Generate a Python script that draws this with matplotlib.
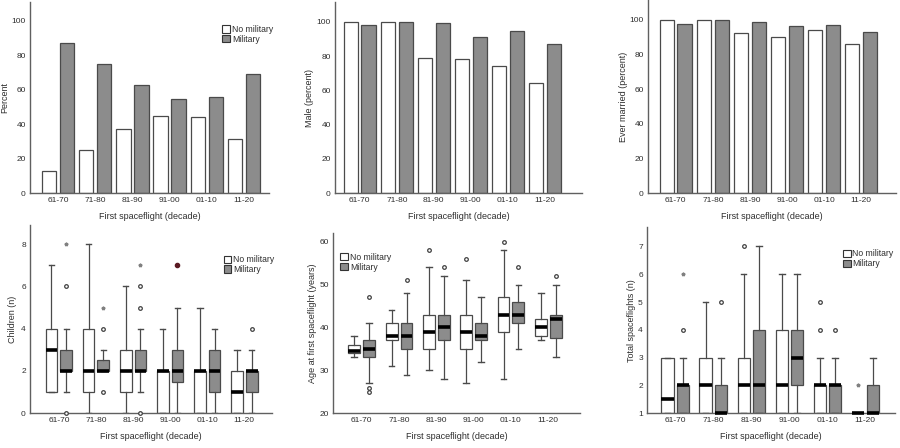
import numpy as np
import matplotlib
matplotlib.use('Agg')
import matplotlib.pyplot as plt
from matplotlib.patches import Patch

plt.rcParams['font.family'] = ['Liberation Sans', 'DejaVu Sans']

decades = ['61-70', '71-80', '81-90', '91-00', '01-10', '11-20']

# top row: percentages
pct_nomil = [13, 25, 37.5, 45, 44.5, 31.5]
pct_mil = [87.5, 75, 63, 55, 56, 69]
male_nomil = [100, 100, 79, 78, 74, 64.5]
male_mil = [98, 100, 99, 91, 94.5, 87]
married_nomil = [100, 100, 92.5, 90, 94, 86]
married_mil = [97.5, 100, 99, 96.5, 97, 93]

# bottom row: box stats (whisker low, q1, median, q3, whisker high)
children_nomil = [(1, 1, 3, 4, 7), (0, 1, 2, 4, 8), (0, 1, 2, 3, 6),
                  (0, 0, 2, 2, 4), (0, 0, 2, 2, 5), (0, 0, 1, 2, 3)]
children_mil = [(1, 2, 2, 3, 4), (2, 2, 2, 2.5, 3), (1, 2, 2, 3, 4),
                (0, 1.5, 2, 3, 5), (0, 1, 2, 3, 4), (0, 1, 2, 2, 3)]
children_nomil_out = [[], [], [], [], [], []]
children_mil_out = [[6, 0], [4, 1], [5, 6, 0], [], [], [4]]
children_mil_ext = [[8], [5], [7], [], [], []]
children_mil_red = [[], [], [], [7], [], []]

age_nomil = [(33, 34, 34.5, 36, 38), (31, 37, 38, 41, 44), (30, 35, 39, 43, 54),
             (27, 35, 39, 43, 51), (28, 39, 43, 47, 58), (37, 38, 40, 42, 48)]
age_mil = [(27, 33, 35, 37, 41), (29, 35, 38, 41, 48), (28, 37, 40, 43, 52),
           (32, 37, 38, 41, 47), (35, 41, 43, 46, 50), (33, 37.5, 42, 43, 50)]
age_nomil_out = [[], [], [58], [56], [60], []]
age_mil_out = [[47, 26, 25], [51], [54], [], [54], [52]]

flights_nomil = [(1, 1, 1.5, 3, 3), (1, 1, 2, 3, 5), (1, 1, 2, 3, 6),
                 (1, 1, 2, 4, 6), (1, 1, 2, 2, 3), (1, 1, 1, 1, 1)]
flights_mil = [(1, 1, 2, 2, 3), (1, 1, 1, 2, 3), (1, 1, 2, 4, 7),
               (1, 2, 3, 4, 6), (1, 1, 2, 2, 3), (1, 1, 1, 2, 3)]
flights_nomil_out = [[], [], [7], [], [4, 5], []]
flights_nomil_ext = [[], [], [], [], [], [2]]
flights_mil_out = [[4], [5], [], [], [4], []]
flights_mil_ext = [[6], [], [], [], [], []]

W, H = 900, 448
GRAY = '#8c8c8c'
EDGE = '#4a4a4a'
SPINE = '#606060'
TXT = '#2e2e2e'

fig = plt.figure(figsize=(9, 4.48), dpi=100)


def px_axes(l, r, top, bottom):
    return fig.add_axes([l / W, 1 - bottom / H, (r - l) / W, (bottom - top) / H])


def style(ax, ylabel, xlim, ylim, yticks, lab_x, lab_y):
    for s in ['top', 'right']:
        ax.spines[s].set_visible(False)
    for s in ['left', 'bottom']:
        ax.spines[s].set_color(SPINE)
        ax.spines[s].set_linewidth(1.0)
    ax.set_xlim(*xlim)
    ax.set_ylim(*ylim)
    ax.set_yticks(yticks)
    ax.set_xticks(range(len(decades)))
    ax.set_xticklabels(decades)
    ax.tick_params(length=0, labelsize=6, colors=TXT, pad=3)
    ax.set_xlabel('First spaceflight (decade)', fontsize=6.5, color=TXT)
    ax.set_ylabel(ylabel, fontsize=6.5, color=TXT)
    ax.xaxis.set_label_coords(0.5, lab_y)
    ax.yaxis.set_label_coords(lab_x, 0.5)


def add_legend(ax, x, y):
    handles = [Patch(facecolor='white', edgecolor='#333333', linewidth=0.8),
               Patch(facecolor=GRAY, edgecolor='#333333', linewidth=0.8)]
    ax.legend(handles, ['No military', 'Military'], loc='upper left',
              bbox_to_anchor=(x, y), frameon=False, fontsize=6.2,
              handlelength=0.9, handleheight=0.9, handletextpad=0.2,
              labelspacing=0.1, borderpad=0, borderaxespad=0,
              labelcolor=TXT)


def bar_panel(ax, nomil, mil):
    x = np.arange(len(decades))
    ax.bar(x - 0.24, nomil, width=0.39, color='white', edgecolor=EDGE, linewidth=0.9)
    ax.bar(x + 0.24, mil, width=0.39, color=GRAY, edgecolor=EDGE, linewidth=0.9)


def box_panel(ax, stats, pos, fill, out, ext=None, red=None):
    bstats = []
    for s in stats:
        bstats.append({'whislo': s[0], 'q1': s[1], 'med': s[2], 'q3': s[3],
                       'whishi': s[4], 'fliers': []})
    ax.bxp(bstats, positions=pos, widths=0.32, capwidths=0.15, patch_artist=True,
           showfliers=False, manage_ticks=False,
           boxprops=dict(facecolor=fill, edgecolor=EDGE, linewidth=0.9),
           whiskerprops=dict(color=EDGE, linewidth=0.9),
           capprops=dict(color=EDGE, linewidth=1.0),
           medianprops=dict(color='black', linewidth=2.6, solid_capstyle='butt',
                            clip_on=False, zorder=5))
    for p, vals in zip(pos, out):
        if vals:
            ax.plot([p] * len(vals), vals, 'o', ms=2.6, mfc='white', mec='#404040',
                    mew=0.9, clip_on=False, zorder=4)
    if ext:
        for p, vals in zip(pos, ext):
            if vals:
                ax.plot([p] * len(vals), vals, '*', ms=2.6, color='#808080',
                        mec='#808080', clip_on=False, zorder=4)
    if red:
        for p, vals in zip(pos, red):
            if vals:
                ax.plot([p] * len(vals), vals, 'o', ms=3, color='#5a1a22',
                        clip_on=False, zorder=4)


x = np.arange(len(decades))

# top left
ax1 = px_axes(30, 269, 2, 193.3)
bar_panel(ax1, pct_nomil, pct_mil)
style(ax1, 'Percent', (-0.75, 5.67), (0, 111), range(0, 101, 20), -0.088, -0.098)
add_legend(ax1, 0.805, 0.88)

# top middle
ax2 = px_axes(335, 582, 2, 193.3)
bar_panel(ax2, male_nomil, male_mil)
style(ax2, 'Male (percent)', (-0.67, 6.0), (0, 111.5), range(0, 101, 20), -0.085, -0.098)

# top right
ax3 = px_axes(648, 896, 0, 193.3)
bar_panel(ax3, married_nomil, married_mil)
style(ax3, 'Ever married (percent)', (-0.75, 5.94), (0, 111.5), range(0, 101, 20), -0.08, -0.098)

# bottom left
ax4 = px_axes(30, 272, 225, 413.3)
box_panel(ax4, children_nomil, x - 0.2, 'white', children_nomil_out)
box_panel(ax4, children_mil, x + 0.2, GRAY, children_mil_out, children_mil_ext, children_mil_red)
style(ax4, 'Children (n)', (-0.78, 5.75), (0, 8.9), range(0, 9, 2), -0.054, -0.1)
add_legend(ax4, 0.8, 0.84)

# bottom middle
ax5 = px_axes(333, 580, 233, 413.3)
box_panel(ax5, age_nomil, x - 0.2, 'white', age_nomil_out)
box_panel(ax5, age_mil, x + 0.2, GRAY, age_mil_out)
style(ax5, 'Age at first spaceflight (years)', (-0.77, 5.85), (20, 62), range(20, 61, 10), -0.065, -0.104)
add_legend(ax5, 0.03, 0.89)

# bottom right
ax6 = px_axes(647, 895, 227, 413.3)
box_panel(ax6, flights_nomil, x - 0.2, 'white', flights_nomil_out, flights_nomil_ext)
box_panel(ax6, flights_mil, x + 0.2, GRAY, flights_mil_out, flights_mil_ext)
style(ax6, 'Total spaceflights (n)', (-0.74, 5.78), (1, 7.7), range(1, 8), -0.044, -0.1)
add_legend(ax6, 0.79, 0.88)

fig.savefig('out.png', dpi=100)
